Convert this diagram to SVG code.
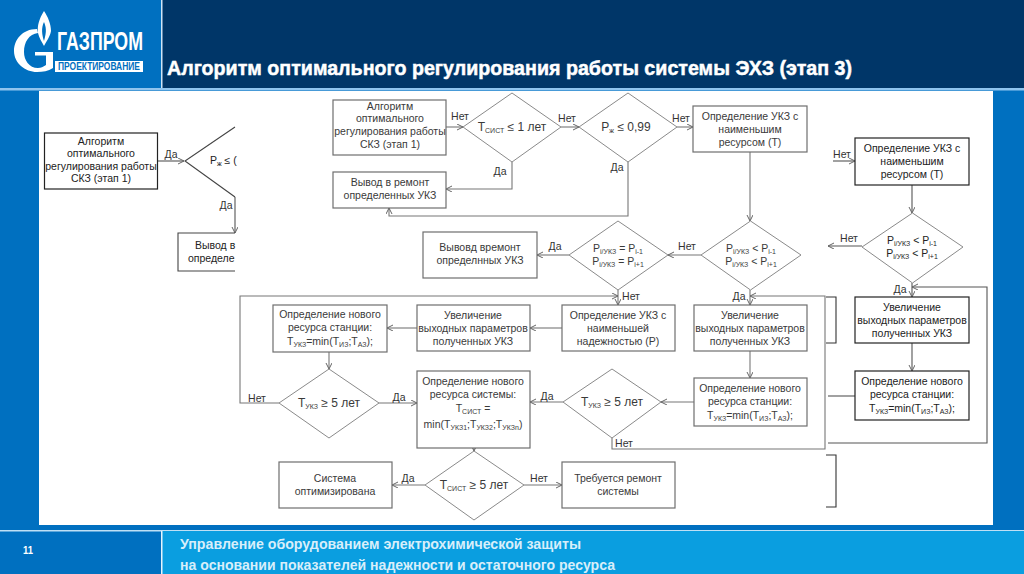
<svg xmlns="http://www.w3.org/2000/svg" width="1024" height="574" viewBox="0 0 1024 574">
<style>
text{font-family:"Liberation Sans",Arial,sans-serif}
.b{fill:#fff;stroke:#6e6e6e;stroke-width:1.2}
.k{fill:#fff;stroke:#222;stroke-width:1.2}
.d{fill:#fff;stroke:#8a8a8a;stroke-width:1}
.t{font-size:10.5px;fill:#3a3a3a;text-anchor:middle}
.u{font-size:10.5px;fill:#222;text-anchor:middle}
.l{font-size:10.5px;fill:#333;text-anchor:middle}
.e{font-size:12px;fill:#3a3a3a;text-anchor:middle}
.s{font-size:7px}
.c{fill:none;stroke:#777;stroke-width:1.1}
.m{fill:none;stroke:#555;stroke-width:1.1}
.h{font-size:21px;font-weight:bold;fill:#fff;stroke:#fff;stroke-width:.5}
.f{font-size:14.5px;font-weight:bold;fill:#d8eefa}
</style>
<defs>
<marker id="a" markerWidth="7" markerHeight="7" refX="6" refY="3" orient="auto" markerUnits="userSpaceOnUse"><path d="M0 0L6 3L0 6" fill="none" stroke="#666" stroke-width="1"/></marker>
</defs>
<g id="background">
<rect width="1024" height="574" fill="#0070c0"/>
<rect x="162" y="0" width="862" height="88" fill="#003668"/>
<rect x="161" y="0" width="1.5" height="88" fill="#cfe4f5"/>
<rect x="0" y="88" width="1024" height="2.500" fill="#8fc4ee"/>
<rect x="39" y="91" width="954" height="434" fill="#fff"/>
<rect x="0" y="530" width="1024" height="1.500" fill="#bfe0f5"/>
<rect x="162" y="531" width="862" height="43" fill="#0a9ee0"/>
<rect x="161" y="531" width="1.500" height="43" fill="#e6f4fb"/>
</g>
<g id="logo">
<path d="M37 29C22 29 14 40 14 51C14 63 25 72 37 72C43 72 48 71 53 68V52H35V55.500H46V65C43 67 41 68 38 68C29 68 24 60 24 52C24 42 29 34 38 33Z" fill="#fff"/>
<path d="M44 11C39 19 37 26 38 33C39 38 42 42 44 46C46 42 50 37 51 31C51 24 48 17 44 11ZM44 22C46 27 47 31 44 41C42 35 41 28 44 22Z" fill="#fff" fill-rule="evenodd"/>
<text x="57" y="50" font-size="26" font-weight="bold" fill="#fff" textLength="86" lengthAdjust="spacingAndGlyphs">ГАЗПРОМ</text>
<rect x="55" y="61" width="88" height="11" fill="#fff"/>
<text x="58" y="70" font-size="10.500" font-weight="bold" fill="#0070c0" textLength="82" lengthAdjust="spacingAndGlyphs">ПРОЕКТИРОВАНИЕ</text>
</g>
<g id="title"><text class="h" x="167" y="75" textLength="685" lengthAdjust="spacingAndGlyphs">Алгоритм оптимального регулирования работы системы ЭХЗ (этап 3)</text></g>
<g id="footer">
<text x="23" y="554" font-size="11" font-weight="bold" fill="#fff" textLength="10" lengthAdjust="spacingAndGlyphs">11</text>
<text class="f" x="180" y="549" textLength="401" lengthAdjust="spacingAndGlyphs">Управление оборудованием электрохимической защиты</text>
<text class="f" x="180" y="570" textLength="435" lengthAdjust="spacingAndGlyphs">на основании показателей надежности и остаточного ресурса</text>
</g>
<g id="connectors">
<path class="m" d="M157 161H184" marker-end="url(#a)"/>
<path class="m" d="M235 197V233" marker-end="url(#a)"/>
<path class="c" d="M446 127H463" marker-end="url(#a)"/>
<path class="c" d="M561 127H579" marker-end="url(#a)"/>
<path class="c" d="M677 127H693" marker-end="url(#a)"/>
<path class="c" d="M512 162V189H446" marker-end="url(#a)"/>
<path class="c" d="M628 162V216H389V208" marker-end="url(#a)"/>
<path class="c" d="M750 152V221" marker-end="url(#a)"/>
<path class="c" d="M701 255H668" marker-end="url(#a)"/>
<path class="c" d="M569 255H537" marker-end="url(#a)"/>
<path class="c" d="M618 290V305" marker-end="url(#a)"/>
<path class="c" d="M750 290V305" marker-end="url(#a)"/>
<path class="c" d="M279 403H240V296H618" marker-end="url(#a)"/>
<path class="c" d="M612 438V449H825V296H750" marker-end="url(#a)"/>
<path class="c" d="M562 328H530" marker-end="url(#a)"/>
<path class="c" d="M417 328H387" marker-end="url(#a)"/>
<path class="c" d="M329 352V369" marker-end="url(#a)"/>
<path class="c" d="M379 403H417" marker-end="url(#a)"/>
<path class="c" d="M750 351V378" marker-end="url(#a)"/>
<path class="c" d="M694 402H661" marker-end="url(#a)"/>
<path class="c" d="M563 402H530" marker-end="url(#a)"/>
<path class="c" d="M474 448V451" marker-end="url(#a)"/>
<path class="c" d="M425 485H392" marker-end="url(#a)"/>
<path class="c" d="M524 485H562" marker-end="url(#a)"/>
<path class="m" d="M833 161H855" marker-end="url(#a)"/>
<path class="m" d="M912 185V213" marker-end="url(#a)"/>
<path class="m" d="M862 246H828" marker-end="url(#a)" stroke-width="1.400"/>
<path class="m" d="M912 283V297" marker-end="url(#a)"/>
<path class="m" d="M912 343V371" marker-end="url(#a)"/>
<path class="m" d="M855 396H828"/>
<path class="m" d="M828 443H987V287H912" marker-end="url(#a)"/>
<path d="M826 297H836V343H826M826 455H836V507H826" fill="none" stroke="#333" stroke-width="1.100"/>
</g>
<g id="n1"><rect class="k" x="44.500" y="133" width="113" height="56"/><text class="u"><tspan x="101" y="145">Алгоритм</tspan><tspan x="101" y="157">оптимального</tspan><tspan x="101" y="170">регулирования работы</tspan><tspan x="101" y="182">СКЗ (этап 1)</tspan></text></g>
<g id="n2"><path d="M235 127L185 161L235 197" fill="none" stroke="#444" stroke-width="1.100"/><text class="u" x="210" y="164" style="text-anchor:start">P<tspan class="s" dy="2">ж</tspan><tspan dy="-2"> ≤ (</tspan></text></g>
<g id="n3"><path d="M235 233H178V271H235" fill="#fff" stroke="#444" stroke-width="1.100"/><text class="u" style="text-anchor:start"><tspan x="195" y="249">Вывод в</tspan><tspan x="188" y="262">определе</tspan></text></g>
<g id="n4"><rect class="b" x="333" y="100" width="113" height="55"/><text class="t"><tspan x="390" y="110">Алгоритм</tspan><tspan x="390" y="122">оптимального</tspan><tspan x="390" y="135">регулирования работы</tspan><tspan x="390" y="148">СКЗ (этап 1)</tspan></text></g>
<g id="n5"><path class="d" d="M512 93L561 127L512 162L463 127Z"/><text class="e" x="512" y="131">Т<tspan class="s" dy="2">СИСТ</tspan><tspan dy="-2"> ≤ 1 лет</tspan></text></g>
<g id="n6"><path class="d" d="M628 93L677 127L628 162L579 127Z"/><text class="e" x="626" y="131">Р<tspan class="s" dy="2">ж</tspan><tspan dy="-2"> ≤ 0,99</tspan></text></g>
<g id="n7"><rect class="b" x="693" y="106" width="114" height="46"/><text class="t"><tspan x="750" y="120">Определение УКЗ с</tspan><tspan x="750" y="133">наименьшим</tspan><tspan x="750" y="146">ресурсом (Т)</tspan></text></g>
<g id="n8"><rect class="b" x="333" y="172" width="113" height="36"/><text class="t"><tspan x="390" y="186">Вывод в ремонт</tspan><tspan x="390" y="199">определенных УКЗ</tspan></text></g>
<g id="n9"><path class="d" d="M750.500 221L801 255L750.500 290L701 255Z"/><text class="t"><tspan x="751" y="252">Р<tspan class="s" dy="2">i/УКЗ</tspan><tspan dy="-2"> &lt; P</tspan><tspan class="s" dy="2">i-1</tspan></tspan><tspan x="751" y="265">Р<tspan class="s" dy="2">i/УКЗ</tspan><tspan dy="-2"> &lt; P</tspan><tspan class="s" dy="2">i+1</tspan></tspan></text></g>
<g id="n10"><path class="d" d="M618 221L668 255L618 290L569 255Z"/><text class="t"><tspan x="618" y="252">Р<tspan class="s" dy="2">i/УКЗ</tspan><tspan dy="-2"> = P</tspan><tspan class="s" dy="2">i-1</tspan></tspan><tspan x="618" y="265">Р<tspan class="s" dy="2">i/УКЗ</tspan><tspan dy="-2"> = P</tspan><tspan class="s" dy="2">i+1</tspan></tspan></text></g>
<g id="n11"><rect class="b" x="423" y="232" width="114" height="46"/><text class="t"><tspan x="480" y="251">Вывовд времонт</tspan><tspan x="480" y="264">определнных УКЗ</tspan></text></g>
<g id="n12"><rect class="b" x="273" y="305" width="114" height="47"/><text class="t"><tspan x="330" y="318">Определение нового</tspan><tspan x="330" y="331">ресурса станции:</tspan><tspan x="330" y="345">Т<tspan class="s" dy="2">УКЗ</tspan><tspan dy="-2">=min(Т</tspan><tspan class="s" dy="2">ИЗ</tspan><tspan dy="-2">;Т</tspan><tspan class="s" dy="2">АЗ</tspan><tspan dy="-2">);</tspan></tspan></text></g>
<g id="n13"><rect class="b" x="417" y="305" width="113" height="46"/><text class="t"><tspan x="473" y="319">Увеличение</tspan><tspan x="473" y="332">выходных параметров</tspan><tspan x="473" y="345">полученных УКЗ</tspan></text></g>
<g id="n14"><rect class="b" x="562" y="305" width="113" height="46"/><text class="t"><tspan x="618" y="319">Определение УКЗ с</tspan><tspan x="618" y="332">наименьшей</tspan><tspan x="618" y="345">надежностью (Р)</tspan></text></g>
<g id="n15"><rect class="b" x="694" y="305" width="113" height="46"/><text class="t"><tspan x="750" y="319">Увеличение</tspan><tspan x="750" y="332">выходных параметров</tspan><tspan x="750" y="345">полученных УКЗ</tspan></text></g>
<g id="n16"><path class="d" d="M329 369L379 403L329 438L279 403Z"/><text class="e" x="329" y="407">Т<tspan class="s" dy="2">УКЗ</tspan><tspan dy="-2"> ≥ 5 лет</tspan></text></g>
<g id="n17"><rect class="b" x="417" y="371" width="113" height="77"/><text class="t"><tspan x="473" y="385">Определение нового</tspan><tspan x="473" y="398">ресурса системы:</tspan><tspan x="473" y="412">Т<tspan class="s" dy="2">СИСТ</tspan><tspan dy="-2"> =</tspan></tspan><tspan x="473" y="428">min(Т<tspan class="s" dy="2">УКЗ1</tspan><tspan dy="-2">;Т</tspan><tspan class="s" dy="2">УКЗ2</tspan><tspan dy="-2">;Т</tspan><tspan class="s" dy="2">УКЗn</tspan><tspan dy="-2">)</tspan></tspan></text></g>
<g id="n18"><path class="d" d="M612 369L661 402L612 438L563 402Z"/><text class="e" x="612" y="406">Т<tspan class="s" dy="2">УКЗ</tspan><tspan dy="-2"> ≥ 5 лет</tspan></text></g>
<g id="n19"><rect class="b" x="694" y="378" width="113" height="48"/><text class="t"><tspan x="750" y="392">Определение нового</tspan><tspan x="750" y="405">ресурса станции:</tspan><tspan x="750" y="419">Т<tspan class="s" dy="2">УКЗ</tspan><tspan dy="-2">=min(Т</tspan><tspan class="s" dy="2">ИЗ</tspan><tspan dy="-2">;Т</tspan><tspan class="s" dy="2">АЗ</tspan><tspan dy="-2">);</tspan></tspan></text></g>
<g id="n20"><path class="d" d="M474 451L524 485L474 520L425 485Z"/><text class="e" x="474" y="489">Т<tspan class="s" dy="2">СИСТ</tspan><tspan dy="-2"> ≥ 5 лет</tspan></text></g>
<g id="n21"><rect class="b" x="279" y="462" width="113" height="46"/><text class="t"><tspan x="335" y="482">Система</tspan><tspan x="335" y="495">оптимизирована</tspan></text></g>
<g id="n22"><rect class="b" x="562" y="462" width="113" height="46"/><text class="t"><tspan x="618" y="482">Требуется ремонт</tspan><tspan x="618" y="495">системы</tspan></text></g>
<g id="n23"><rect class="k" x="855" y="138" width="114" height="47"/><text class="u"><tspan x="912" y="152">Определение УКЗ с</tspan><tspan x="912" y="165">наименьшим</tspan><tspan x="912" y="178">ресурсом (Т)</tspan></text></g>
<g id="n24"><path class="d" d="M912.500 213L963 247L912.500 283L862 247Z"/><text class="u"><tspan x="912" y="244">Р<tspan class="s" dy="2">i/УКЗ</tspan><tspan dy="-2"> &lt; P</tspan><tspan class="s" dy="2">i-1</tspan></tspan><tspan x="912" y="257">Р<tspan class="s" dy="2">i/УКЗ</tspan><tspan dy="-2"> &lt; P</tspan><tspan class="s" dy="2">i+1</tspan></tspan></text></g>
<g id="n25"><rect class="k" x="855" y="297" width="114" height="46"/><text class="u"><tspan x="912" y="311">Увеличение</tspan><tspan x="912" y="324">выходных параметров</tspan><tspan x="912" y="337">полученных УКЗ</tspan></text></g>
<g id="n26"><rect class="k" x="855" y="371" width="114" height="49"/><text class="u"><tspan x="912" y="385">Определение нового</tspan><tspan x="912" y="398">ресурса станции:</tspan><tspan x="912" y="412">Т<tspan class="s" dy="2">УКЗ</tspan><tspan dy="-2">=min(Т</tspan><tspan class="s" dy="2">ИЗ</tspan><tspan dy="-2">;Т</tspan><tspan class="s" dy="2">АЗ</tspan><tspan dy="-2">);</tspan></tspan></text></g>
<g id="labels">
<text class="l" x="171" y="158">Да</text><text class="l" x="226" y="209">Да</text>
<text class="l" x="460" y="120">Нет</text><text class="l" x="567" y="122">Нет</text><text class="l" x="681" y="122">Нет</text>
<text class="l" x="500" y="175">Да</text><text class="l" x="617" y="171">Да</text>
<text class="l" x="687" y="250">Нет</text><text class="l" x="555" y="250">Да</text>
<text class="l" x="631" y="300">Нет</text><text class="l" x="739" y="300">Да</text>
<text class="l" x="257" y="402">Нет</text><text class="l" x="399" y="401">Да</text>
<text class="l" x="547" y="400">Да</text><text class="l" x="624" y="447">Нет</text>
<text class="l" x="408" y="482">Да</text><text class="l" x="539" y="482">Нет</text>
<text class="l" x="842" y="158">Нет</text><text class="l" x="849" y="242">Нет</text><text class="l" x="900" y="293">Да</text>
</g>
</svg>
